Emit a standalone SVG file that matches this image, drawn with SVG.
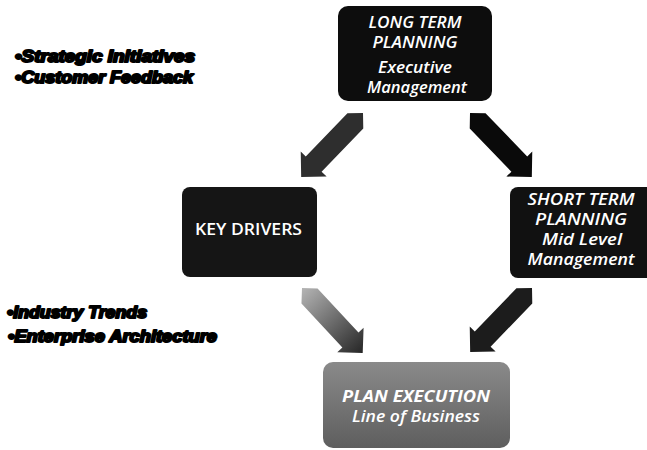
<svg xmlns="http://www.w3.org/2000/svg" width="647" height="450" viewBox="0 0 647 450">
<style>
.box{stroke:none}
.t{font-family:"Open Sans","DejaVu Sans",sans-serif;fill:#ffffff;text-anchor:middle;font-style:italic;font-weight:600;font-size:16px}
.up{font-style:normal}
.b{font-weight:bold}
.note{font-family:"Liberation Sans",Arial,sans-serif;font-weight:900;font-style:italic;font-size:16px;fill:#000;stroke:#000;stroke-width:2px;stroke-linejoin:round}
</style>
<defs>
<polygon id="arr" points="0,0 11,-11 71,-11 71,-18 89,0 71,18 71,11 11,11"/>
<linearGradient id="gArr" x1="0" y1="0" x2="1" y2="0">
<stop offset="0" stop-color="#b5b5b5"/>
<stop offset="1" stop-color="#262626"/>
</linearGradient>
<linearGradient id="gPlan" x1="0" y1="0" x2="0" y2="1">
<stop offset="0" stop-color="#8a8a8a"/>
<stop offset="1" stop-color="#5e5e5e"/>
</linearGradient>
</defs>
<rect width="647" height="450" fill="#ffffff"/>
<g id="notes">
<text class="note" x="15" y="62" textLength="180" lengthAdjust="spacingAndGlyphs">•Strategic Initiatives</text>
<text class="note" x="15" y="83" textLength="178" lengthAdjust="spacingAndGlyphs">•Customer Feedback</text>
<text class="note" x="7" y="318" textLength="140" lengthAdjust="spacingAndGlyphs">•Industry Trends</text>
<text class="note" x="8" y="342" textLength="209" lengthAdjust="spacingAndGlyphs">•Enterprise Architecture</text>
</g>
<g id="connectors">
<use href="#arr" transform="translate(363,113) rotate(134)" fill="#2e2e2e"/>
<use href="#arr" transform="translate(470,113) rotate(46)" fill="#0a0a0a"/>
<use href="#arr" transform="translate(302,288) rotate(47)" fill="url(#gArr)"/>
<use href="#arr" transform="translate(532,288) rotate(134)" fill="#1c1c1c"/>
</g>
<g id="long-term">
<rect class="box" x="338" y="6" width="154" height="95" rx="10" fill="#0d0d0d"/>
<text class="t" x="415" y="28" textLength="93" lengthAdjust="spacingAndGlyphs">LONG TERM</text>
<text class="t" x="415" y="48" textLength="85" lengthAdjust="spacingAndGlyphs">PLANNING</text>
<text class="t" x="415" y="73" textLength="74" lengthAdjust="spacingAndGlyphs">Executive</text>
<text class="t" x="417" y="93" textLength="100" lengthAdjust="spacingAndGlyphs">Management</text>
</g>
<g id="key-drivers">
<rect class="box" x="182" y="187" width="135" height="90" rx="8" fill="#151515"/>
<text class="t up" x="248.5" y="235" textLength="107" lengthAdjust="spacingAndGlyphs">KEY DRIVERS</text>
</g>
<g id="short-term">
<rect class="box" x="510" y="187" width="145" height="91" rx="8" fill="#111111"/>
<text class="t" x="581" y="205" textLength="107" lengthAdjust="spacingAndGlyphs">SHORT TERM</text>
<text class="t" x="581" y="225" textLength="92" lengthAdjust="spacingAndGlyphs">PLANNING</text>
<text class="t" x="582" y="245" textLength="80" lengthAdjust="spacingAndGlyphs">Mid Level</text>
<text class="t" x="581" y="265" textLength="107" lengthAdjust="spacingAndGlyphs">Management</text>
</g>
<g id="plan-execution">
<rect class="box" x="323" y="362" width="187" height="86" rx="10" fill="url(#gPlan)"/>
<text class="t b" x="416" y="402" textLength="148" lengthAdjust="spacingAndGlyphs">PLAN EXECUTION</text>
<text class="t" x="416" y="422" textLength="128" lengthAdjust="spacingAndGlyphs">Line of Business</text>
</g>
</svg>
